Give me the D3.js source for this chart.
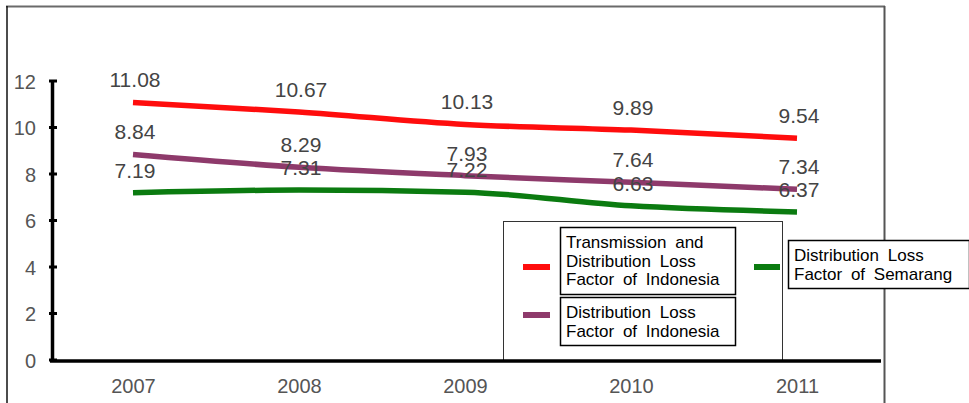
<!DOCTYPE html>
<html>
<head>
<meta charset="utf-8">
<script src="https://cdn.jsdelivr.net/npm/d3@7"></script>
<style>
  html, body { margin: 0; padding: 0; background: #fff; }
  svg { display: block; }
</style>
</head>
<body>
<svg id="chart" width="969" height="403"></svg>
<script>
// Loss factors, in percent, for 2007–2011
const years = ["2007", "2008", "2009", "2010", "2011"];
const tdLossIndonesia = [11.08, 10.67, 10.13, 9.89, 9.54];
const distLossIndonesia = [8.84, 8.29, 7.93, 7.64, 7.34];
const distLossSemarang = [7.19, 7.31, 7.22, 6.63, 6.37];
const yTicks = [0, 2, 4, 6, 8, 10, 12];

const series = [
  { name: ["Transmission and", "Distribution Loss", "Factor of Indonesia"], values: tdLossIndonesia, color: "#ff0d0d" },
  { name: ["Distribution Loss", "Factor of Indonesia"], values: distLossIndonesia, color: "#8e3a6b" },
  { name: ["Distribution Loss", "Factor of Semarang"], values: distLossSemarang, color: "#0b7b10" }
];

const svg = d3.select("#chart");
const x = d3.scalePoint().domain(years).range([133, 797]);
const y = d3.scaleLinear().domain([0, 12]).range([360, 81]);

// outer frame
svg.append("line").attr("x1", 6).attr("x2", 885).attr("y1", 6.5).attr("y2", 6.5)
  .attr("stroke", "#6a6a6a").attr("stroke-width", 2);
svg.append("line").attr("x1", 7).attr("x2", 7).attr("y1", 6).attr("y2", 403)
  .attr("stroke", "#111").attr("stroke-width", 1.5);
svg.append("line").attr("x1", 884.5).attr("x2", 884.5).attr("y1", 6).attr("y2", 403)
  .attr("stroke", "#555").attr("stroke-width", 2);

// y axis labels
const yAxis = svg.append("g").attr("transform", "translate(36,0)")
  .call(d3.axisLeft(y).tickValues(yTicks).tickSize(0).tickPadding(0).tickFormat(d3.format("d")));
yAxis.select(".domain").remove();
yAxis.selectAll("text")
  .attr("font-family", "Liberation Sans, Arial, sans-serif")
  .attr("font-size", 20).attr("fill", "#555").attr("dy", "0.36em");

// y axis line and tick marks
svg.append("line").attr("x1", 52.5).attr("x2", 52.5).attr("y1", y(12)).attr("y2", y(0))
  .attr("stroke", "#000").attr("stroke-width", 3.5);
svg.selectAll("line.ytick").data(yTicks).join("line").attr("class", "ytick")
  .attr("x1", 49).attr("x2", 57).attr("y1", d => y(d)).attr("y2", d => y(d))
  .attr("stroke", "#000").attr("stroke-width", 3);

// x axis labels
const xAxis = svg.append("g").attr("transform", "translate(0,376)")
  .call(d3.axisBottom(x).tickSize(0).tickPadding(0));
xAxis.select(".domain").remove();
xAxis.selectAll("text")
  .attr("font-family", "Liberation Sans, Arial, sans-serif")
  .attr("font-size", 20).attr("fill", "#555").attr("dy", "0.85em");

// legend frame behind the axis
svg.append("rect").attr("x", 503.5).attr("y", 221.5).attr("width", 279).attr("height", 139)
  .attr("fill", "#fff").attr("stroke", "#333").attr("stroke-width", 1);

// x axis line
svg.append("line").attr("x1", 50).attr("x2", 881).attr("y1", 361).attr("y2", 361)
  .attr("stroke", "#000").attr("stroke-width", 3.5);

// series lines
const line = d3.line().x((d, i) => x(years[i])).y(d => y(d)).curve(d3.curveMonotoneX);
svg.selectAll("path.series").data(series).join("path").attr("class", "series")
  .attr("d", d => line(d.values))
  .attr("fill", "none").attr("stroke", d => d.color).attr("stroke-width", 5.5);

// value labels
series.forEach(s => {
  svg.append("g").selectAll("text").data(s.values).join("text")
    .attr("x", (d, i) => x(years[i]) + 2)
    .attr("y", d => y(d) - 15)
    .attr("text-anchor", "middle")
    .attr("font-family", "Liberation Sans, Arial, sans-serif")
    .attr("font-size", 21).attr("fill", "#444")
    .text(d => d.toFixed(2));
});

// legend entries
const legendItems = [
  { s: series[0], box: [560, 227, 175, 67], swatch: [523, 550, 267] },
  { s: series[1], box: [560, 297, 175, 48], swatch: [523, 550, 315] },
  { s: series[2], box: [788, 240, 181, 48], swatch: [754, 780, 267] }
];
legendItems.forEach(item => {
  const [bx, by, bw, bh] = item.box;
  svg.append("rect").attr("x", bx + 0.5).attr("y", by + 0.5).attr("width", bw).attr("height", bh)
    .attr("fill", "#fff").attr("stroke", "#000").attr("stroke-width", 1.5);
  svg.append("line").attr("x1", item.swatch[0]).attr("x2", item.swatch[1])
    .attr("y1", item.swatch[2]).attr("y2", item.swatch[2])
    .attr("stroke", item.s.color).attr("stroke-width", 6);
  const t = svg.append("text")
    .attr("font-family", "Liberation Sans, Arial, sans-serif")
    .attr("font-size", 17).attr("fill", "#000").attr("word-spacing", 4);
  item.s.name.forEach((ln, i) => {
    t.append("tspan").attr("x", bx + 6).attr("y", by + 21 + i * 18.5).text(ln);
  });
});
</script>
</body>
</html>
